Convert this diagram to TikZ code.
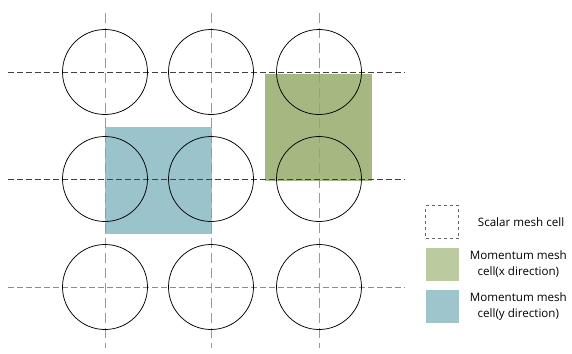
\documentclass[tikz,border=0pt]{standalone}
\usepackage{fontspec}
\setmainfont{Open Sans}
\usepackage{tikz}
\usetikzlibrary{positioning}
\definecolor{xcell}{HTML}{A6B882}
\definecolor{ycell}{HTML}{9BC3CC}
\definecolor{xleg}{HTML}{BCCB9F}
\definecolor{yleg}{HTML}{9EC4CC}

\begin{document}
\begin{tikzpicture}[
  x=1pt,y=-1pt,
  node distance=9pt and 11pt,
  cell/.style={circle,draw=black,line width=0.75pt,minimum size=85pt,inner sep=0pt},
  vline/.style={draw=black!40,line width=1pt,dash pattern=on 10pt off 5pt},
  hline/.style={draw=black!75,line width=0.75pt,dash pattern=on 6pt off 3pt},
  hlinelt/.style={hline,draw=black!45},
  legbox/.style={minimum size=33pt,inner sep=0pt},
  legtext/.style={align=center,inner sep=0pt,font=\fontsize{11.6}{16}\selectfont}
]
\useasboundingbox (0,0) rectangle (572,353);
% momentum cells
\fill[ycell] (105,127) rectangle (212,234);
\fill[xcell] (265,74) rectangle (372,181);
% mesh lines
\foreach \x in {105,211,319}
  \draw[vline] (\x,13) -- (\x,348);
\draw[hline] (8,72) -- (405,72);
\draw[hline] (8,179) -- (405,179);
\draw[hlinelt] (8,287) -- (405,287);
% scalar cells
\foreach \x/\i in {105/1,211/2,319/3}
  \foreach \y/\j in {72/1,179/2,287/3}
    \node[cell] (c\j\i) at (\x,\y) {};
% legend
\node[legbox,draw=black!60,dashed] (scal) at (442,222) {};
\node[legbox,fill=xleg,below=of scal] (momx) {};
\node[legbox,fill=yleg,below=of momx] (momy) {};
\node[legtext,right=19pt of scal] (scaltxt) {Scalar mesh cell};
\node[legtext,right=11pt of momx] (momxtxt) {Momentum mesh\\cell(x direction)};
\node[legtext,right=11pt of momy] (momytxt) {Momentum mesh\\cell(y direction)};
\end{tikzpicture}
\end{document}
